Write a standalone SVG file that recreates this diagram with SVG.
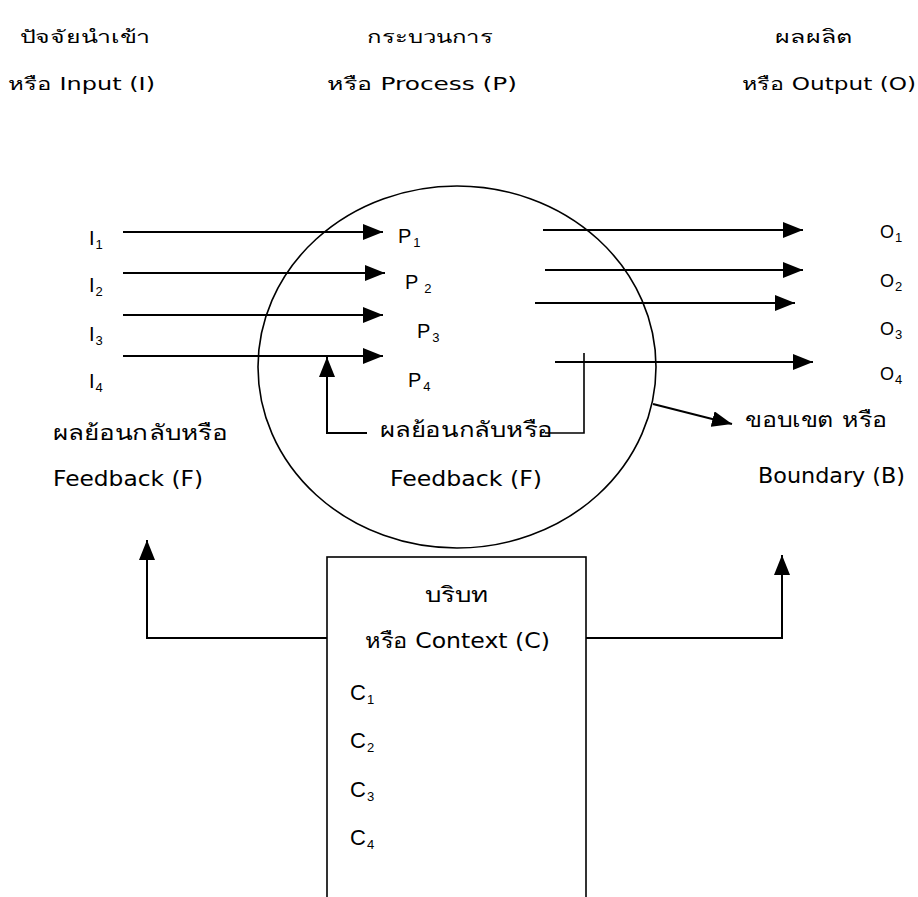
<svg xmlns="http://www.w3.org/2000/svg" width="918" height="897" viewBox="0 0 918 897">
<style>
text{font-family:"DejaVu Sans","Noto Sans",sans-serif;fill:#000}
.h{font-size:18px}
.m{font-size:21px}
.lab{font-family:"Liberation Sans",Arial,sans-serif;font-size:20px}
.sub{font-size:13px}
.ln{fill:none;stroke:#000;stroke-width:1.6}
.ar{fill:none;stroke:#000;stroke-width:2;marker-end:url(#ah)}
</style>
<defs>
<marker id="ah" markerUnits="userSpaceOnUse" markerWidth="22" markerHeight="16" refX="20" refY="8" orient="auto">
<path d="M0,0 L20,8 L0,16 Z" fill="#000"/>
</marker>
</defs>
<rect width="918" height="897" fill="#fff"/>

<g id="headers">
<text class="h" x="20" y="43" textLength="130" lengthAdjust="spacingAndGlyphs">ปัจจัยนำเข้า</text>
<text class="h" x="8" y="90" textLength="147" lengthAdjust="spacingAndGlyphs">หรือ Input (I)</text>
<text class="h" x="367" y="43" textLength="126" lengthAdjust="spacingAndGlyphs">กระบวนการ</text>
<text class="h" x="327" y="90" textLength="190" lengthAdjust="spacingAndGlyphs">หรือ Process (P)</text>
<text class="h" x="775" y="43" textLength="78" lengthAdjust="spacingAndGlyphs">ผลผลิต</text>
<text class="h" x="742" y="90" textLength="174" lengthAdjust="spacingAndGlyphs">หรือ Output (O)</text>
</g>

<g id="process">
<ellipse cx="457" cy="367" rx="199" ry="181" class="ln"/>
<text class="lab" x="398" y="243">P<tspan class="sub" dx="2" dy="4">1</tspan></text>
<text class="lab" x="405" y="289">P<tspan class="sub" dx="6" dy="4">2</tspan></text>
<text class="lab" x="417" y="338">P<tspan class="sub" dx="2" dy="4">3</tspan></text>
<text class="lab" x="408" y="387">P<tspan class="sub" dx="2" dy="4">4</tspan></text>
</g>

<g id="inputs">
<text class="lab" x="89" y="245">I<tspan class="sub" dx="1" dy="4">1</tspan></text>
<text class="lab" x="89" y="292">I<tspan class="sub" dx="1" dy="4">2</tspan></text>
<text class="lab" x="89" y="341">I<tspan class="sub" dx="1" dy="4">3</tspan></text>
<text class="lab" x="89" y="388">I<tspan class="sub" dx="1" dy="4">4</tspan></text>
</g>

<g id="outputs">
<text class="lab" x="880" y="238" style="font-size:18px">O<tspan class="sub" dx="1" dy="4">1</tspan></text>
<text class="lab" x="880" y="287" style="font-size:18px">O<tspan class="sub" dx="1" dy="4">2</tspan></text>
<text class="lab" x="880" y="335" style="font-size:18px">O<tspan class="sub" dx="1" dy="4">3</tspan></text>
<text class="lab" x="880" y="380" style="font-size:18px">O<tspan class="sub" dx="1" dy="4">4</tspan></text>
</g>

<g id="feedback-left">
<text class="m" x="53" y="440" textLength="175" lengthAdjust="spacingAndGlyphs">ผลย้อนกลับหรือ</text>
<text class="m" x="53" y="486" textLength="150" lengthAdjust="spacingAndGlyphs">Feedback (F)</text>
</g>

<g id="feedback-center">
<text class="m" x="380" y="437" textLength="173" lengthAdjust="spacingAndGlyphs">ผลย้อนกลับหรือ</text>
<text class="m" x="390" y="486" textLength="152" lengthAdjust="spacingAndGlyphs">Feedback (F)</text>
</g>

<g id="boundary">
<text class="m" x="745" y="427" textLength="142" lengthAdjust="spacingAndGlyphs">ขอบเขต หรือ</text>
<text class="m" x="758" y="483" textLength="147" lengthAdjust="spacingAndGlyphs">Boundary (B)</text>
</g>

<g id="context">
<rect x="327" y="557" width="259" height="360" class="ln"/>
<text class="m" x="425" y="602" textLength="63" lengthAdjust="spacingAndGlyphs">บริบท</text>
<text class="m" x="365" y="648" textLength="185" lengthAdjust="spacingAndGlyphs">หรือ Context (C)</text>
<text class="lab" x="350" y="700" style="font-size:22px">C<tspan class="sub" dx="1" dy="4">1</tspan></text>
<text class="lab" x="350" y="748" style="font-size:22px">C<tspan class="sub" dx="1" dy="4">2</tspan></text>
<text class="lab" x="350" y="797" style="font-size:22px">C<tspan class="sub" dx="1" dy="4">3</tspan></text>
<text class="lab" x="350" y="845" style="font-size:22px">C<tspan class="sub" dx="1" dy="4">4</tspan></text>
</g>

<g id="connectors">
<path class="ar" d="M123,232 H383"/>
<path class="ar" d="M123,273 H385"/>
<path class="ar" d="M123,315 H383"/>
<path class="ar" d="M123,356 H383"/>
<path class="ar" d="M543,230 H803"/>
<path class="ar" d="M545,270 H803"/>
<path class="ar" d="M535,303 H795"/>
<path class="ar" d="M555,362 H813"/>
<path class="ar" d="M367,433 H327 V357"/>
<path class="ln" d="M545,433 H584 V353"/>
<path class="ar" d="M653,404 L732,424"/>
<path class="ar" d="M327,638 H147 V540"/>
<path class="ar" d="M586,638 H782 V555"/>
</g>
</svg>
